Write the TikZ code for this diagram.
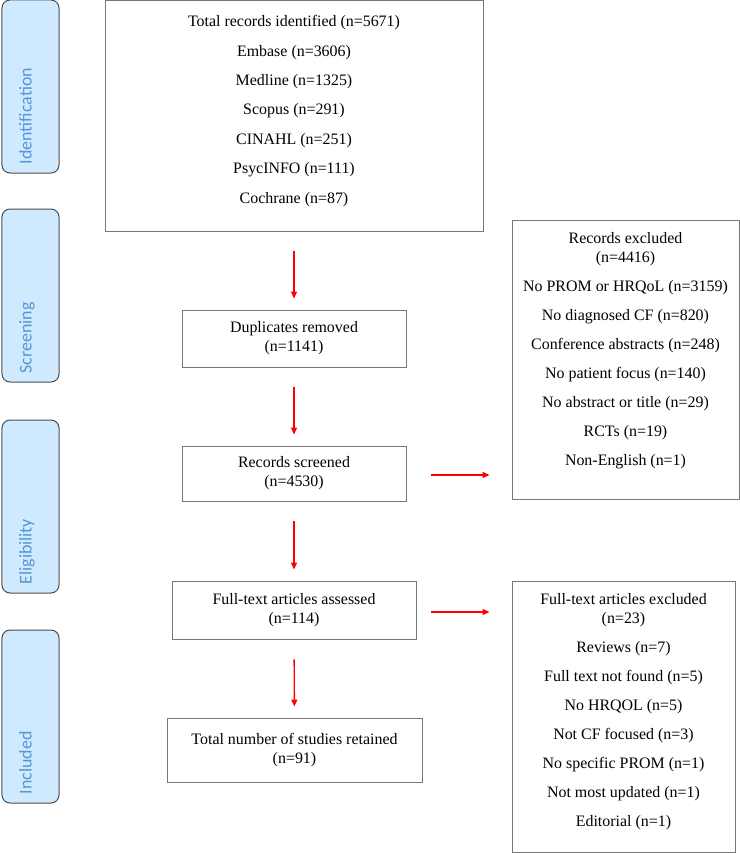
\documentclass[tikz,border=0pt]{standalone}
\usepackage{fontspec}
\setmainfont{Liberation Serif}
\newfontfamily\sidefont{Carlito}
\usepackage{tikz}
\usetikzlibrary{arrows.meta,positioning,calc}
\definecolor{sidefill}{RGB}{207,234,255}
\definecolor{sidetext}{RGB}{84,150,214}
\definecolor{boxline}{RGB}{118,118,118}
\tikzset{
  >={Triangle[length=7bp,width=6bp]},
  phase/.style={draw=black!70, line width=1bp, fill=sidefill, rounded corners=8bp,
    minimum width=57bp, minimum height=173bp, inner sep=0pt},
  phasetxt/.style={rotate=90, anchor=base west, inner sep=0pt, text=sidetext,
    font=\sidefont\fontsize{18}{21}\selectfont},
  stage/.style={draw=boxline, line width=0.9bp, inner sep=0pt, align=center,
    font=\fontsize{16}{19}\selectfont},
  flow/.style={->, red, line width=1.4bp},
}

\begin{document}
\begin{tikzpicture}[x=1bp, y=-1bp]
  \useasboundingbox (0,0) rectangle (740,853);

  % phase bars on the left
  \node[phase] (idf) at (30.5,86.5) {};
  \node[phase] (scr) at (30.5,295.5) {};
  \node[phase] (elg) at (30.5,506.5) {};
  \node[phase] (inc) at (30.5,716.5) {};
  \node[phasetxt] (idft) at ([shift={(1,-9)}]idf.south) {Identification};
  \node[phasetxt] (scrt) at ([shift={(1,-9)}]scr.south) {Screening};
  \node[phasetxt] (elgt) at ([shift={(1,-9)}]elg.south) {Eligibility};
  \node[phasetxt] (inct) at ([shift={(1,-9)}]inc.south) {Included};

  % main column
  \node[stage, minimum width=378bp, minimum height=230.5bp, text height=202.5bp, text depth=28bp]
    (tot) at (294,115.75) {Total records identified (n=5671)\\[10.5pt]
      Embase (n=3606)\\[10.5pt] Medline (n=1325)\\[10.5pt] Scopus (n=291)\\[10.5pt]
      CINAHL (n=251)\\[10.5pt] PsycINFO (n=111)\\[10.5pt] Cochrane (n=87)};
  \node[stage, minimum width=224bp, minimum height=57bp] (dup) at (294,338.5)
    {Duplicates removed\\(n=1141)};
  \node[stage, minimum width=224bp, minimum height=55bp] (scrn) at (294,473.5)
    {Records screened\\(n=4530)};
  \node[stage, minimum width=244bp, minimum height=58bp] (ful) at (294,610)
    {Full-text articles assessed\\(n=114)};
  \node[stage, minimum width=255bp, minimum height=64bp] (ret) at (294.5,750)
    {Total number of studies retained\\(n=91)};

  % exclusions
  \node[stage, minimum width=227bp, minimum height=279bp, text height=245bp, text depth=34bp]
    (exc1) at (625.5,359.5) {Records excluded\\(n=4416)\\[10pt]
      No PROM or HRQoL (n=3159)\\[10pt] No diagnosed CF (n=820)\\[10pt]
      Conference abstracts (n=248)\\[10pt] No patient focus (n=140)\\[10pt]
      No abstract or title (n=29)\\[10pt] RCTs (n=19)\\[10pt] Non-English (n=1)};
  \node[stage, minimum width=223bp, minimum height=271bp, text height=245bp, text depth=26bp]
    (exc2) at (623.5,716.5) {Full-text articles excluded\\(n=23)\\[10pt]
      Reviews (n=7)\\[10pt] Full text not found (n=5)\\[10pt] No HRQOL (n=5)\\[10pt]
      Not CF focused (n=3)\\[10pt] No specific PROM (n=1)\\[10pt]
      Not most updated (n=1)\\[10pt] Editorial (n=1)};

  % arrows
  \draw[flow, shorten <=20bp, shorten >=11bp] (tot) -- (dup);
  \draw[flow, shorten <=20bp, shorten >=11bp] (dup) -- (scrn);
  \draw[flow, shorten <=20bp, shorten >=11bp] (scrn) -- (ful);
  \draw[flow, shorten <=20bp, shorten >=11bp] (ful) -- (ret);
  \draw[flow, shorten <=25bp, shorten >=22bp]
    ([yshift=-1.5bp]scrn.east) -- ([yshift=-1.5bp]scrn.east -| exc1.west);
  \draw[flow, shorten <=15bp, shorten >=22bp]
    ([yshift=-2bp]ful.east) -- ([yshift=-2bp]ful.east -| exc2.west);
\end{tikzpicture}
\end{document}
